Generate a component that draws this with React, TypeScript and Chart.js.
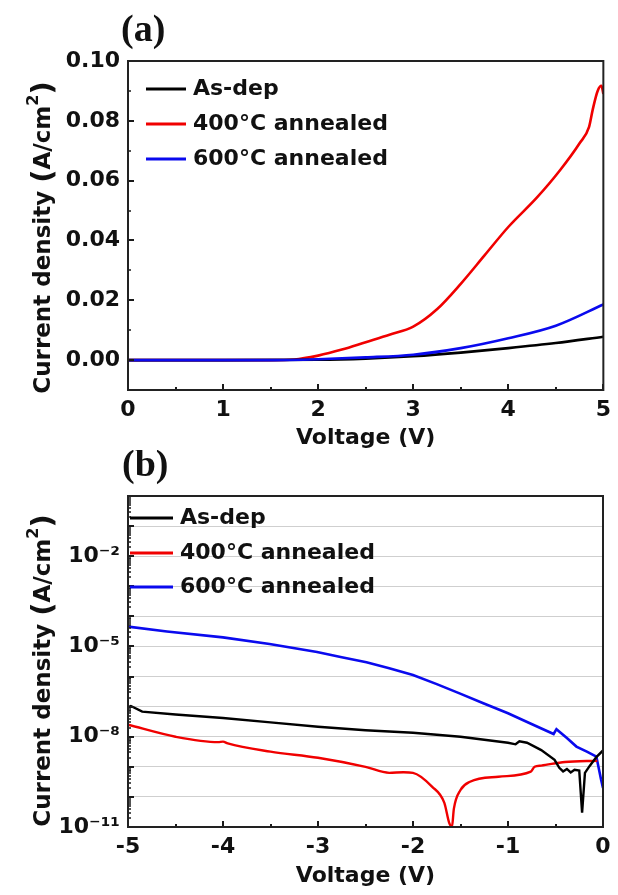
import React, { useEffect, useRef } from 'react';
import { Chart, registerables } from 'chart.js';

Chart.register(...registerables);

const SANS = '"DejaVu Sans", "Liberation Sans", Arial, sans-serif';
const SERIF = '"Liberation Serif", "DejaVu Serif", serif';

const SERIES_NAMES = ['As-dep', '400°C annealed', '600°C annealed'];
const SERIES_COLORS = ['#000000', '#f00000', '#0a0aee'];

// ---- Panel (a): forward bias, linear scale ----
const A_V_ASDEP = [0, 1, 2, 2.5, 3, 3.5, 4, 4.5, 5];
const A_J_ASDEP = [0, 0, 0.0001, 0.0005, 0.0013, 0.0025, 0.004, 0.0057, 0.0078];
const A_V_400 = [0, 0.5, 1, 1.5, 1.75, 2, 2.25, 2.5, 2.75, 3, 3.25, 3.5, 3.75, 4, 4.3, 4.54, 4.75, 4.85, 4.89, 4.94, 4.98, 5];
const A_J_400 = [0, 0, 0, 0, 0.0002, 0.0015, 0.0035, 0.006, 0.0085, 0.0112, 0.017, 0.0255, 0.035, 0.0445, 0.0543, 0.0633, 0.0725, 0.078, 0.084, 0.09, 0.0917, 0.089];
const A_V_600 = [0, 0.5, 1, 1.5, 2, 2.5, 3, 3.5, 4, 4.5, 5];
const A_J_600 = [0, 0, 0, 0, 0.0003, 0.0009, 0.0018, 0.004, 0.0073, 0.0115, 0.0186];

const A_X_TICKS = [0, 1, 2, 3, 4, 5];
const A_X_MINOR = [0.5, 1.5, 2.5, 3.5, 4.5];
const A_Y_TICKS = [0, 0.02, 0.04, 0.06, 0.08, 0.1];
const A_Y_MINOR = [-0.01, 0.01, 0.03, 0.05, 0.07, 0.09];

// ---- Panel (b): reverse bias, log scale ----
const B_V_ASDEP = [-5, -4.97, -4.85, -4.5, -4, -3.5, -3, -2.5, -2, -1.5, -1, -0.92, -0.88, -0.8, -0.65, -0.51, -0.46, -0.42, -0.38, -0.34, -0.3, -0.25, -0.22, -0.19, -0.14, -0.07, 0];
const B_J_ASDEP = [9.5e-8, 1.05e-7, 6.8e-8, 5.5e-8, 4.2e-8, 3.0e-8, 2.15e-8, 1.65e-8, 1.35e-8, 1.0e-8, 6.3e-9, 5.6e-9, 7.0e-9, 6.3e-9, 3.6e-9, 1.7e-9, 9.3e-10, 7.0e-10, 8.5e-10, 6.5e-10, 8.0e-10, 7.5e-10, 3.0e-11, 6.3e-10, 1.07e-9, 2.1e-9, 3.5e-9];
const B_V_400 = [-5, -4.5, -4.05, -4, -3.95, -3.5, -3, -2.5, -2.25, -2.1, -2, -1.8, -1.67, -1.62, -1.59, -1.57, -1.5, -1.4, -1.1, -0.76, -0.72, -0.65, -0.4, -0.06];
const B_J_400 = [2.5e-8, 1.0e-8, 6.6e-9, 6.9e-9, 6.0e-9, 3.2e-9, 2.0e-9, 1.0e-9, 6.3e-10, 6.6e-10, 6.3e-10, 2.2e-10, 6.3e-11, 1.4e-11, 1.0e-11, 4.0e-11, 1.7e-10, 3.2e-10, 4.7e-10, 6.9e-10, 1.0e-9, 1.1e-9, 1.45e-9, 1.6e-9];
const B_V_600 = [-5, -4.59, -4, -3.51, -3.01, -2.75, -2.49, -2.25, -2, -1.75, -1.51, -1.26, -1, -0.77, -0.52, -0.49, -0.38, -0.28, -0.17, -0.07, -0.02, 0];
const B_J_600 = [4.57e-5, 3.16e-5, 2.0e-5, 1.2e-5, 6.5e-6, 4.4e-6, 3.0e-6, 1.9e-6, 1.12e-6, 5.6e-7, 2.75e-7, 1.29e-7, 6.0e-8, 2.8e-8, 1.23e-8, 1.78e-8, 9.0e-9, 4.7e-9, 3.2e-9, 2.2e-9, 3.7e-10, 2.0e-10];

const B_X_TICKS = [-5, -4, -3, -2, -1, 0];
const B_X_MINOR = [-4.5, -3.5, -2.5, -1.5, -0.5];
const B_Y_DECADE_EXP = [-11, -10, -9, -8, -7, -6, -5, -4, -3, -2, -1, 0];
const B_Y_LABEL_EXP = [-11, -8, -5, -2];
const B_Y_MINOR_MANT = [2, 3, 4, 5, 6, 7, 8, 9];

const SUP: Record<string, string> = { '-': '⁻', '0': '⁰', '1': '¹', '2': '²', '3': '³', '4': '⁴', '5': '⁵', '6': '⁶', '7': '⁷', '8': '⁸', '9': '⁹' };
const sup = (n: number) => String(n).split('').map((c) => SUP[c] || c).join('');

const zip = (xs: number[], ys: number[]) => xs.map((x, i) => ({ x, y: ys[i] }));

const tickFont = { family: SANS, size: 22, weight: 'bold' as const };

const framePlugin = {
  id: 'frame',
  afterDatasetsDraw(chart: any, _args: any, opts: any) {
    const { ctx, chartArea: a, scales } = chart;
    const xs = scales.x;
    const ys = scales.y;
    ctx.save();
    ctx.strokeStyle = '#1a1a1a';
    ctx.lineWidth = 2;
    const xTick = (vals: number[], len: number) => {
      vals.forEach((v) => {
        const px = Math.round(xs.getPixelForValue(v));
        ctx.beginPath();
        ctx.moveTo(px, a.bottom);
        ctx.lineTo(px, a.bottom - len);
        ctx.stroke();
      });
    };
    const yTick = (vals: number[], len: number) => {
      vals.forEach((v) => {
        const py = Math.round(ys.getPixelForValue(v));
        ctx.beginPath();
        ctx.moveTo(a.left, py);
        ctx.lineTo(a.left + len, py);
        ctx.stroke();
      });
    };
    xTick(opts.xMajor, 6);
    xTick(opts.xMinor, 3);
    yTick(opts.yMajor, 6);
    ctx.lineWidth = 1.5;
    yTick(opts.yMinor, 3);
    ctx.lineWidth = 2;
    ctx.strokeStyle = '#222';
    ctx.strokeRect(a.left, a.top, a.right - a.left, a.bottom - a.top);

    chart.data.datasets.forEach((ds: any, i: number) => {
      const y = a.top + opts.legendRows[i];
      ctx.strokeStyle = ds.borderColor;
      ctx.lineWidth = 3;
      ctx.beginPath();
      ctx.moveTo(a.left + opts.legendLine[0], y);
      ctx.lineTo(a.left + opts.legendLine[1], y);
      ctx.stroke();
      ctx.fillStyle = '#111';
      ctx.font = `bold 22px ${SANS}`;
      ctx.textAlign = 'left';
      ctx.textBaseline = 'middle';
      ctx.fillText(ds.label, a.left + opts.legendText, y);
    });

    ctx.fillStyle = '#111';
    ctx.font = `bold 38px ${SERIF}`;
    ctx.textAlign = 'left';
    ctx.textBaseline = 'middle';
    ctx.fillText(opts.panel, opts.panelPos[0], opts.panelPos[1]);

    const parts = [
      { t: 'Current density ', size: 23, dy: 0 },
      { t: '(', size: 29, dy: 2 },
      { t: 'A/cm', size: 23, dy: 0 },
      { t: '2', size: 16, dy: -12 },
      { t: ')', size: 29, dy: 2 },
    ];
    let total = 0;
    const widths = parts.map((p) => {
      ctx.font = `bold ${p.size}px ${SANS}`;
      const w = ctx.measureText(p.t).width;
      total += w;
      return w;
    });
    ctx.translate(a.left + opts.yTitleDx, (a.top + a.bottom) / 2 + opts.yTitleDy);
    ctx.rotate(-Math.PI / 2);
    ctx.textBaseline = 'alphabetic';
    let cx = -total / 2;
    parts.forEach((p, i) => {
      ctx.font = `bold ${p.size}px ${SANS}`;
      ctx.fillText(p.t, cx, p.dy);
      cx += widths[i];
    });
    ctx.restore();
  },
};

function lineDs(i: number, pts: { x: number; y: number }[], extra: any = {}) {
  return {
    label: SERIES_NAMES[i],
    data: pts,
    borderColor: SERIES_COLORS[i],
    backgroundColor: SERIES_COLORS[i],
    borderWidth: 2.6,
    pointRadius: 0,
    fill: false,
    ...extra,
  };
}

function configA(): any {
  return {
    type: 'line',
    data: {
      datasets: [
        lineDs(0, zip(A_V_ASDEP, A_J_ASDEP), { order: 1, cubicInterpolationMode: 'monotone' }),
        lineDs(1, zip(A_V_400, A_J_400), { order: 2, cubicInterpolationMode: 'monotone' }),
        lineDs(2, zip(A_V_600, A_J_600), { order: 0, cubicInterpolationMode: 'monotone' }),
      ],
    },
    options: {
      animation: false,
      responsive: false,
      devicePixelRatio: 1,
      layout: { padding: { left: 0, right: 14, top: 61, bottom: 0 } },
      plugins: {
        legend: { display: false },
        tooltip: { enabled: false },
        frame: {
          xMajor: A_X_TICKS,
          xMinor: A_X_MINOR,
          yMajor: A_Y_TICKS,
          yMinor: A_Y_MINOR,
          legendRows: [28, 63, 98],
          legendLine: [18, 58],
          legendText: 65,
          panel: '(a)',
          panelPos: [121, 31],
          yTitleDx: -78,
          yTitleDy: 12,
        },
      },
      scales: {
        x: {
          type: 'linear',
          min: 0,
          max: 5,
          afterBuildTicks: (s: any) => {
            s.ticks = A_X_TICKS.map((v) => ({ value: v }));
          },
          afterFit: (s: any) => {
            s.height = 70;
          },
          grid: { display: false, drawTicks: false },
          border: { display: false },
          ticks: { font: tickFont, color: '#111', padding: 7, maxRotation: 0, autoSkip: false, callback: (v: any) => String(v) },
          title: { display: true, text: 'Voltage (V)', color: '#111', font: tickFont, padding: { top: 0, bottom: 9 } },
        },
        y: {
          type: 'linear',
          min: -0.01,
          max: 0.1,
          afterBuildTicks: (s: any) => {
            s.ticks = A_Y_TICKS.map((v) => ({ value: v }));
          },
          afterFit: (s: any) => {
            s.width = 128;
          },
          grid: { display: false, drawTicks: false },
          border: { display: false },
          ticks: { font: tickFont, color: '#111', padding: 8, autoSkip: false, callback: (v: any) => Number(v).toFixed(2) },
        },
      },
    },
    plugins: [framePlugin],
  };
}

function configB(): any {
  const minor: number[] = [];
  B_Y_DECADE_EXP.slice(0, -1).forEach((e) => B_Y_MINOR_MANT.forEach((m) => minor.push(m * Math.pow(10, e))));
  return {
    type: 'line',
    data: {
      datasets: [
        lineDs(0, zip(B_V_ASDEP, B_J_ASDEP), { borderWidth: 2.4 }),
        lineDs(1, zip(B_V_400, B_J_400), { borderWidth: 2.4, cubicInterpolationMode: 'monotone' }),
        lineDs(2, zip(B_V_600, B_J_600), { borderWidth: 2.6 }),
      ],
    },
    options: {
      animation: false,
      responsive: false,
      devicePixelRatio: 1,
      layout: { padding: { left: 0, right: 15, top: 46, bottom: 0 } },
      plugins: {
        legend: { display: false },
        tooltip: { enabled: false },
        frame: {
          xMajor: B_X_TICKS,
          xMinor: B_X_MINOR,
          yMajor: B_Y_DECADE_EXP.map((e) => Math.pow(10, e)),
          yMinor: minor,
          legendRows: [22, 57, 91],
          legendLine: [2, 45],
          legendText: 52,
          panel: '(b)',
          panelPos: [122, 16],
          yTitleDx: -78,
          yTitleDy: 9,
        },
      },
      scales: {
        x: {
          type: 'linear',
          min: -5,
          max: 0,
          afterBuildTicks: (s: any) => {
            s.ticks = B_X_TICKS.map((v) => ({ value: v }));
          },
          afterFit: (s: any) => {
            s.height = 68;
          },
          grid: { display: false, drawTicks: false },
          border: { display: false },
          ticks: { font: tickFont, color: '#111', padding: 7, maxRotation: 0, autoSkip: false, callback: (v: any) => String(v) },
          title: { display: true, text: 'Voltage (V)', color: '#111', font: tickFont, padding: { top: 0, bottom: 6 } },
        },
        y: {
          type: 'logarithmic',
          min: 1e-11,
          max: 1,
          afterBuildTicks: (s: any) => {
            s.ticks = B_Y_DECADE_EXP.map((e) => ({ value: Math.pow(10, e) }));
          },
          afterFit: (s: any) => {
            s.width = 128;
          },
          grid: { display: true, drawTicks: false, color: '#cfcfcf', lineWidth: 1 },
          border: { display: false },
          ticks: {
            font: tickFont,
            color: '#111',
            padding: 8,
            autoSkip: false,
            callback: (v: any) => {
              const e = Math.round(Math.log10(Number(v)));
              return B_Y_LABEL_EXP.includes(e) ? '10' + sup(e) : '';
            },
          },
        },
      },
    },
    plugins: [framePlugin],
  };
}

function ChartCanvas({ make, top, height }: { make: () => any; top: number; height: number }) {
  const ref = useRef<HTMLCanvasElement | null>(null);
  useEffect(() => {
    if (!ref.current) return;
    const chart = new Chart(ref.current, make());
    return () => chart.destroy();
  }, [make]);
  return (
    <canvas
      ref={ref}
      width={618}
      height={height}
      style={{ position: 'absolute', left: 0, top, width: 618, height }}
    />
  );
}

export default function App() {
  return (
    <div style={{ position: 'absolute', left: 0, top: 0, width: 618, height: 895, background: '#fff', overflow: 'hidden' }}>
      <ChartCanvas make={configA} top={0} height={460} />
      <ChartCanvas make={configB} top={450} height={445} />
    </div>
  );
}
